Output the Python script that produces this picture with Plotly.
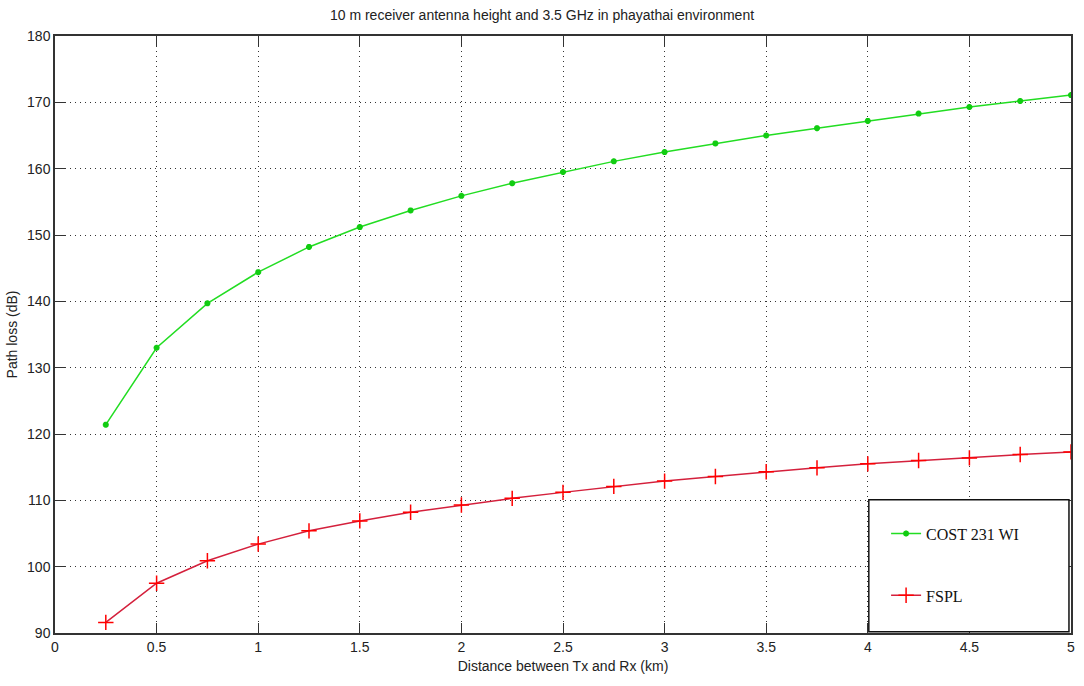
import plotly.graph_objects as go

distance_km = [0.25, 0.5, 0.75, 1.0, 1.25, 1.5, 1.75, 2.0, 2.25, 2.5, 2.75, 3.0,
               3.25, 3.5, 3.75, 4.0, 4.25, 4.5, 4.75, 5.0]
cost231_db = [121.4, 133.0, 139.7, 144.4, 148.2, 151.2, 153.7, 155.9, 157.8, 159.5,
              161.1, 162.5, 163.8, 165.0, 166.1, 167.2, 168.3, 169.3, 170.2, 171.1]
fspl_db = [91.6, 97.5, 100.9, 103.4, 105.4, 106.9, 108.2, 109.3, 110.3, 111.2,
           112.1, 112.9, 113.6, 114.3, 114.9, 115.5, 116.0, 116.4, 116.9, 117.3]

x_ticks = [0, 0.5, 1, 1.5, 2, 2.5, 3, 3.5, 4, 4.5, 5]
x_ticklabels = ["0", "0.5", "1", "1.5", "2", "2.5", "3", "3.5", "4", "4.5", "5"]
y_ticks = [90, 100, 110, 120, 130, 140, 150, 160, 170, 180]

title_text = "10 m receiver antenna height and 3.5 GHz in phayathai environment"
x_title = "Distance between Tx and Rx (km)"
y_title = "Path loss (dB)"

sans = "Liberation Sans Narrow, Liberation Sans, Arial"
tick_font = dict(family=sans, size=14, color="#222")

fig = go.Figure()
fig.add_trace(go.Scatter(
    x=distance_km, y=cost231_db, mode="lines+markers", name="COST 231 WI",
    legendgroup="a",
    line=dict(color="#22dd22", width=1.5),
    marker=dict(symbol="asterisk-open", size=5, color="#11cc11", line=dict(width=2, color="#11cc11")),
))
fig.add_trace(go.Scatter(
    x=distance_km, y=fspl_db, mode="lines+markers", name="FSPL",
    legendgroup="b",
    line=dict(color="#d4203c", width=1.5),
    marker=dict(symbol="cross-thin-open", size=11, color="#ff0000", line=dict(width=1.5, color="#ff0000")),
))

fig.add_shape(type="rect", xref="paper", yref="paper", x0=0.801, x1=0.998, y0=0.002, y1=0.223,
              line=dict(color="#111", width=1.5), fillcolor="white", layer="above")

fig.update_layout(
    width=1084, height=686,
    margin=dict(l=55, r=9, t=36, b=53),
    paper_bgcolor="white", plot_bgcolor="white",
    title=dict(text=title_text, x=0.5, xanchor="center", y=0.985, yanchor="top",
               font=dict(family=sans, size=14, color="#222")),
    legend=dict(x=0.818, y=0.195, xanchor="left", yanchor="top", bgcolor="rgba(0,0,0,0)",
                borderwidth=0, tracegroupgap=38,
                font=dict(family="Liberation Serif, Times New Roman, serif", size=16, color="#111")),
    showlegend=True,
)
grid_common = dict(showgrid=True, gridcolor="#333", griddash="1px,4px", gridwidth=1,
                   showline=True, linecolor="#333", linewidth=1.5, mirror="ticks",
                   ticks="inside", ticklen=10, tickcolor="#333", zeroline=False)
fig.update_xaxes(
    range=[0, 5], tickvals=x_ticks, ticktext=x_ticklabels, tickfont=tick_font,
    title=dict(text=x_title, font=dict(family=sans, size=14, color="#222"), standoff=8),
    **grid_common,
)
fig.update_yaxes(
    range=[90, 180], tickvals=y_ticks, tickfont=tick_font,
    title=dict(text=y_title, font=dict(family=sans, size=14, color="#222"), standoff=6),
    **grid_common,
)

fig.write_html("out.html")
